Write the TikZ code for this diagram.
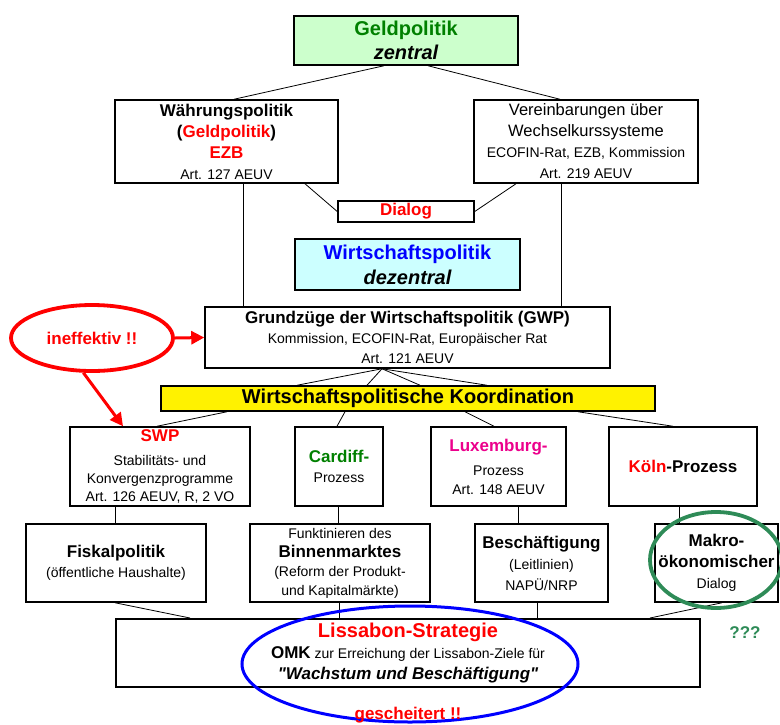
\documentclass[tikz,border=0pt]{standalone}
\usepackage{fontspec}
\setmainfont{Liberation Sans}
\usepackage{tikz}
\usetikzlibrary{shadows}
\usetikzlibrary{shapes.geometric}
\usetikzlibrary{arrows.meta}
\definecolor{geldgreen}{RGB}{0,128,0}
\definecolor{lightgreen}{RGB}{204,255,204}
\definecolor{lightcyan}{RGB}{204,255,255}
\definecolor{ringgreen}{RGB}{46,139,87}
\newcommand{\hugetxt}{\bfseries\fontsize{20}{\baselineskip}\selectfont}
\newcommand{\bigtxt}{\bfseries\fontsize{17}{\baselineskip}\selectfont}
\newcommand{\midtxt}{\fontsize{16.5}{\baselineskip}\selectfont}
\newcommand{\straightquote}{\XeTeXglyph\XeTeXcharglyph"22\relax}
\tikzstyle{box}=[draw, line width=1.5pt, fill=white, align=center, inner sep=0pt, drop shadow={shadow xshift=1.2pt, shadow yshift=-1.2pt, fill=black!50, opacity=0.6}]
\tikzstyle{link}=[draw, line width=0.8pt]
\tikzstyle{redarrow}=[draw, red, line width=3pt, -{Triangle[length=13pt,width=13pt]}]
\tikzstyle{ring}=[ellipse, draw, line width=3.8pt, inner sep=0pt]

\begin{document}
\begin{tikzpicture}[x=1pt, y=-1pt, font=\fontsize{14}{20}\selectfont]
\useasboundingbox (0,0) rectangle (780,724);

    % central part
    \node[box, fill=lightgreen, minimum width=224pt, minimum height=49pt, font=\fontsize{14}{24}\selectfont] (Geld) at (406,40.5)
        {{\hugetxt\color{geldgreen}Geldpolitik}\\{\hugetxt\itshape zentral}};
    \node[box, minimum width=223pt, minimum height=83pt, font=\fontsize{14}{21}\selectfont] (Waehrung) at (226.5,141.5)
        {{\bigtxt W\"ahrungspolitik}\\{\bigtxt (\textcolor{red}{Geldpolitik})}\\{\bigtxt\color{red}EZB}\\Art. 127 AEUV};
    \node[box, minimum width=224pt, minimum height=83pt, font=\fontsize{14}{21}\selectfont] (Vereinb) at (586,141.5)
        {{\midtxt Vereinbarungen \"uber}\\{\midtxt Wechselkurssysteme}\\ECOFIN-Rat, EZB, Kommission\\Art. 219 AEUV};
    \node[box, minimum width=136pt, minimum height=21pt] (Dialog) at (406,211.5) {{\bigtxt\color{red}Dialog}};

    % decentral part
    \node[box, fill=lightcyan, minimum width=225pt, minimum height=51pt, font=\fontsize{14}{25}\selectfont] (Wpol) at (407.5,264.5)
        {{\hugetxt\color{blue}Wirtschaftspolitik}\\{\hugetxt\itshape dezentral}};
    \node[box, minimum width=405pt, minimum height=61pt] (GWP) at (407.5,337.5)
        {{\bigtxt Grundz\"uge der Wirtschaftspolitik (GWP)}\\Kommission, ECOFIN-Rat, Europ\"aischer Rat\\Art. 121 AEUV};
    \node[box, fill=yellow, minimum width=494pt, minimum height=25pt] (Koord) at (408,398.5)
        {{\hugetxt Wirtschaftspolitische Koordination}};

    % processes
    \node[box, minimum width=180pt, minimum height=79pt, font=\fontsize{14}{18}\selectfont] (SWP) at (160,466.5)
        {{\bigtxt\color{red}SWP}\\[6pt]Stabilit\"ats- und\\Konvergenzprogramme\\Art. 126 AEUV, R, 2 VO};
    \node[box, minimum width=88pt, minimum height=79pt] (Cardiff) at (339,466.5)
        {{\bigtxt\color{geldgreen}Cardiff-}\\Prozess};
    \node[box, minimum width=135pt, minimum height=79pt, font=\fontsize{14}{19}\selectfont] (Lux) at (498.5,466.5)
        {{\bigtxt\color{magenta}Luxemburg-}\\[5pt]Prozess\\Art. 148 AEUV};
    \node[box, minimum width=148pt, minimum height=79pt] (Koeln) at (683,466.5)
        {{\bigtxt\color{red}K\"oln}{\bigtxt -Prozess}};

    % fields
    \node[box, minimum width=180pt, minimum height=78pt] (Fiskal) at (116,563)
        {{\bigtxt Fiskalpolitik}\\(\"offentliche Haushalte)};
    \node[box, minimum width=180pt, minimum height=78pt, font=\fontsize{14}{19}\selectfont] (Binnen) at (340,563)
        {Funktinieren des\\{\bigtxt Binnenmarktes}\\(Reform der Produkt-\\und Kapitalm\"arkte)};
    \node[box, minimum width=133pt, minimum height=78pt, font=\fontsize{14}{21}\selectfont] (Besch) at (541.5,563)
        {{\bigtxt Besch\"aftigung}\\(Leitlinien)\\NAP\"U/NRP};
    \node[box, minimum width=123pt, minimum height=78pt, font=\fontsize{14}{21}\selectfont] (Makro) at (716.5,563)
        {{\bigtxt Makro-}\\{\bigtxt \"okonomischer}\\Dialog};

    % Lisbon
    \node[box, line width=2pt, minimum width=584pt, minimum height=68pt, font=\fontsize{14}{21}\selectfont] (Liss) at (408,653)
        {{\hugetxt\color{red}Lissabon-Strategie}\\{\bigtxt OMK} zur Erreichung der Lissabon-Ziele f\"ur\\{\bigtxt\itshape \straightquote Wachstum und Besch\"aftigung\straightquote}};

    % Connect the boxes
    \draw[link] ([xshift=-22pt]Geld.south) -- ([xshift=7.5pt]Waehrung.north);
    \draw[link] ([xshift=22pt]Geld.south) -- ([xshift=-26pt]Vereinb.north);
    \draw[link] ([xshift=78.5pt]Waehrung.south) -- (Dialog.west);
    \draw[link] ([xshift=-70pt]Vereinb.south) -- (Dialog.east);
    \draw[link] ([xshift=16.5pt]Waehrung.south) -- ([xshift=16.5pt]Waehrung.south |- GWP.north);
    \draw[link] ([xshift=-25pt]Vereinb.south) -- ([xshift=-25pt]Vereinb.south |- GWP.north);
    \foreach \sh in {-111,-41,12,79}
        \draw[link] ([xshift=-25.5pt]GWP.south) -- ([xshift=\sh pt]Koord.north);
    \foreach \sa/\dest/\sb in {-181/SWP/-3, -63/Cardiff/-2, 57/Lux/-4.5, 170/Koeln/-10}
        \draw[link] ([xshift=\sa pt]Koord.south) -- ([xshift=\sb pt]\dest.north);
    \foreach \source/\dest/\sh in {SWP/Fiskal/-45, Cardiff/Binnen/-1, Lux/Besch/19.5, Koeln/Makro/-4}
        \draw[link] ([xshift=\sh pt]\source.south) -- ([xshift=\sh pt]\source.south |- \dest.north);
    \foreach \source/\sa/\sb in {Fiskal/-1/-218, Binnen/-1/-69, Besch/-4.5/129, Makro/5.5/242}
        \draw[link] ([xshift=\sa pt]\source.south) -- ([xshift=\sb pt]Liss.north);

    % comments
    \node[ring, red, minimum width=162pt, minimum height=66pt] (ineff) at (92,338) {{\bigtxt\color{red}ineffektiv !!}};
    \draw[redarrow] (ineff.east) -- (GWP.west);
    \draw[redarrow] (ineff.256) -- ([xshift=-37pt]SWP.north);
    \node[ring, blue, line width=3pt, minimum width=336pt, minimum height=116pt] (blauring) at (410,664) {};
    \node[red] (gescheitert) at (408,715) {{\bigtxt gescheitert !!}};
    \node[ring, ringgreen, minimum width=132pt, minimum height=96pt] (gruenring) at (716,560) {};
    \node[ringgreen] (fragen) at (745,633) {{\bigtxt ???}};

\end{tikzpicture}
\end{document}
